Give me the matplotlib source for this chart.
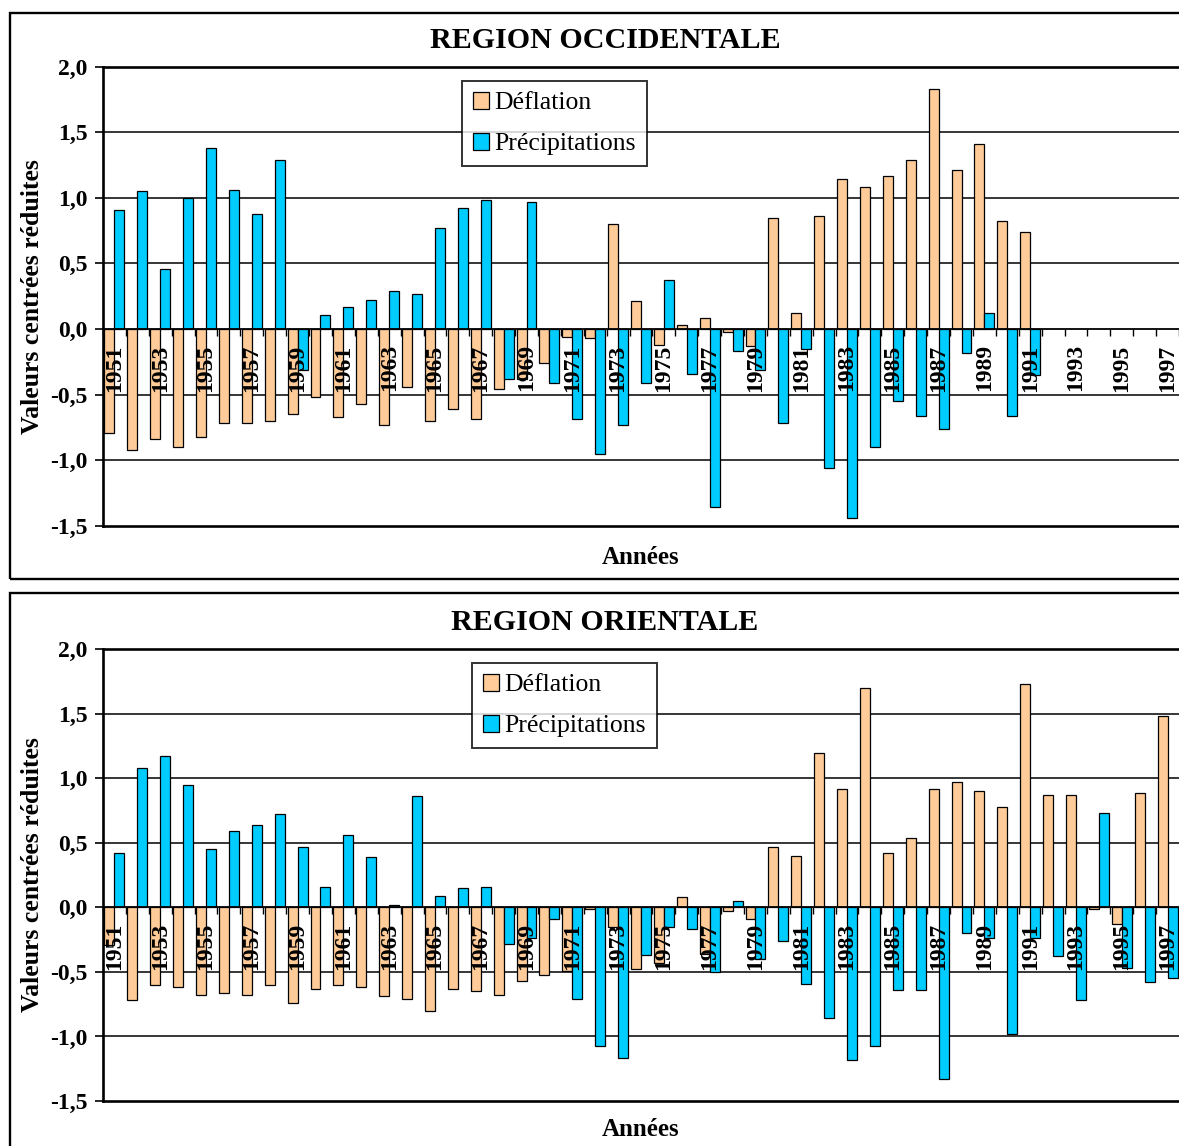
import numpy as np
import matplotlib
matplotlib.use("Agg")
import matplotlib.pyplot as plt
from matplotlib.patches import Rectangle
from matplotlib.ticker import FixedLocator, FuncFormatter

plt.rcParams['font.family'] = ['Liberation Serif', 'DejaVu Serif']

# ---- data -----------------------------------------------------------------
years = list(range(1951, 1998))

# Région occidentale (no data after 1991)
occ_deflation = [-0.79, -0.92, -0.84, -0.90, -0.82, -0.72, -0.72, -0.70, -0.65, -0.52,
                 -0.67, -0.57, -0.73, -0.44, -0.70, -0.61, -0.69, -0.46, -0.38, -0.26,
                 -0.06, -0.07, 0.80, 0.21, -0.12, 0.03, 0.08, -0.02, -0.13, 0.85,
                 0.12, 0.86, 1.14, 1.08, 1.17, 1.29, 1.83, 1.21, 1.41, 0.82,
                 0.74, None, None, None, None, None, None]
occ_precip = [0.91, 1.05, 0.46, 1.00, 1.38, 1.06, 0.88, 1.29, -0.31, 0.11,
              0.17, 0.22, 0.29, 0.27, 0.77, 0.92, 0.98, -0.38, 0.97, -0.41,
              -0.69, -0.95, -0.73, -0.41, 0.37, -0.34, -1.36, -0.17, -0.31, -0.72,
              -0.15, -1.06, -1.44, -0.90, -0.55, -0.66, -0.76, -0.18, 0.12, -0.66,
              -0.35, None, None, None, None, None, None]

# Région orientale
ori_deflation = [-0.29, -0.72, -0.60, -0.62, -0.68, -0.66, -0.68, -0.60, -0.74, -0.63,
                 -0.60, -0.62, -0.69, -0.71, -0.80, -0.63, -0.65, -0.68, -0.57, -0.52,
                 -0.49, -0.01, -0.15, -0.48, -0.43, 0.08, -0.36, -0.03, -0.09, 0.47,
                 0.40, 1.20, 0.92, 1.70, 0.42, 0.54, 0.92, 0.97, 0.90, 0.78,
                 1.73, 0.87, 0.87, -0.01, -0.13, 0.89, 1.48]
ori_precip = [0.42, 1.08, 1.17, 0.95, 0.45, 0.59, 0.64, 0.72, 0.47, 0.16,
              0.56, 0.39, 0.02, 0.86, 0.09, 0.15, 0.16, -0.28, -0.24, -0.09,
              -0.71, -1.07, -1.17, -0.37, -0.15, -0.17, -0.50, 0.05, -0.40, -0.26,
              -0.59, -0.86, -1.18, -1.07, -0.64, -0.64, -1.33, -0.20, -0.24, -0.98,
              -0.24, -0.38, -0.72, 0.73, -0.47, -0.58, -0.55]

series_names = ["Déflation", "Précipitations"]
yticks = [-1.5, -1.0, -0.5, 0.0, 0.5, 1.0, 1.5, 2.0]

COL_DEF = "#FFCC99"
COL_PRE = "#00CCFF"

# ---- figure ---------------------------------------------------------------
W, H = 1179, 1146
DPI = 100
fig = plt.figure(figsize=(W / DPI, H / DPI), dpi=DPI)


def px_axes(left, top, right, bottom):
    return fig.add_axes([left / W, 1 - bottom / H, (right - left) / W, (bottom - top) / H])


def frame(left, top, right, bottom):
    r = Rectangle((left / W, 1 - bottom / H), (right - left) / W, (bottom - top) / H,
                  transform=fig.transFigure, fill=False, edgecolor="black",
                  linewidth=1.7, clip_on=False, zorder=0)
    fig.patches.append(r)


def to_arr(vals):
    return np.array([np.nan if v is None else v for v in vals], dtype=float)


def panel(ax, defl, prec, leg_anchor):
    x = np.arange(len(years))
    d = to_arr(defl)
    p = to_arr(prec)
    bw = 0.435
    md = ~np.isnan(d)
    mp = ~np.isnan(p)
    b1 = ax.bar(x[md] - bw / 2, d[md], width=bw, color=COL_DEF, edgecolor="black",
                linewidth=0.9, zorder=1, label=series_names[0])
    b2 = ax.bar(x[mp] + bw / 2, p[mp], width=bw, color=COL_PRE, edgecolor="black",
                linewidth=0.9, zorder=1, label=series_names[1])

    ax.set_xlim(-0.5, len(years) - 0.5)
    ax.set_ylim(-1.5, 2.0)
    ax.set_facecolor("none")

    # horizontal grid behind the bars
    for v in yticks[1:-1]:
        if v != 0.0:
            ax.axhline(v, color="black", linewidth=1.1, zorder=0.5)
    ax.axhline(-1.5, color="black", linewidth=1.9, zorder=0.5, clip_on=False)

    # category axis crossing at zero
    ax.spines['bottom'].set_position(('data', 0.0))
    ax.spines['bottom'].set_linewidth(1.3)
    ax.spines['right'].set_visible(False)
    ax.spines['top'].set_linewidth(1.9)
    ax.spines['left'].set_linewidth(1.9)

    ax.xaxis.set_major_locator(FixedLocator(x[::2]))
    ax.set_xticklabels([str(y) for y in years[::2]], rotation=90,
                       fontsize=17, fontweight="bold", va="top", ha="center")
    ax.xaxis.set_minor_locator(FixedLocator(np.arange(-0.5, len(years), 1.0)))
    ax.tick_params(axis="x", which="major", length=0, pad=11)
    ax.tick_params(axis="x", which="minor", length=5, width=1.0, direction="out")

    ax.yaxis.set_major_locator(FixedLocator(yticks))
    ax.yaxis.set_major_formatter(FuncFormatter(lambda v, _: f"{v:.1f}".replace(".", ",")))
    ax.tick_params(axis="y", length=6, width=1.2, direction="out", pad=5)
    for t in ax.get_yticklabels():
        t.set_fontsize(17)
        t.set_fontweight("bold")

    leg = ax.legend(handles=[b1, b2], loc="upper left",
                    bbox_to_anchor=(leg_anchor[0] / W, 1 - leg_anchor[1] / H),
                    bbox_transform=fig.transFigure, frameon=True, fancybox=False,
                    edgecolor="black", fontsize=18.5, handlelength=0.65,
                    handleheight=0.65, handletextpad=0.2, labelspacing=0.72,
                    borderpad=0.42, borderaxespad=0)
    leg.get_frame().set_linewidth(1.4)
    leg.set_zorder(5)


def decorate(title, title_y, xlabel_y, ylabel_y):
    fig.text(605 / W, 1 - title_y / H, title, ha="center", va="center",
             fontsize=21.6, fontweight="bold")
    fig.text(641 / W, 1 - xlabel_y / H, "Années", ha="center", va="center",
             fontsize=18, fontweight="bold")
    fig.text(33 / W, 1 - ylabel_y / H, "Valeurs centrées réduites", ha="center",
             va="center", rotation=90, fontsize=18.5, fontweight="bold")


# Région occidentale
frame(10, 13, W + 20, 579)
ax1 = px_axes(103, 66.7, 1179, 525.7)
panel(ax1, occ_deflation, occ_precip, (462, 81))
decorate("REGION OCCIDENTALE", 41, 557, 297)

# Région orientale
frame(10, 593, W + 20, H + 20)
ax2 = px_axes(103, 649.3, 1179, 1101)
panel(ax2, ori_deflation, ori_precip, (472, 663))
decorate("REGION ORIENTALE", 622, 1130, 875)

fig.savefig("out.png", dpi=DPI)
